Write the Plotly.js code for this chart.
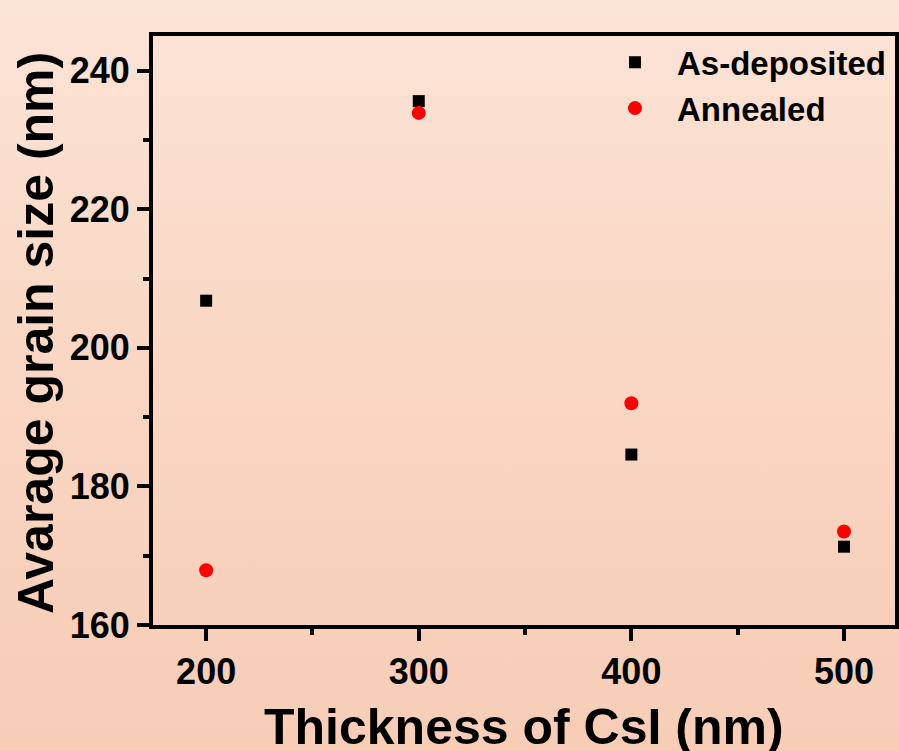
<!DOCTYPE html>
<html>
<head>
<meta charset="utf-8">
<script src="https://cdn.plot.ly/plotly-3.0.1.min.js"></script>
<style>
html,body{margin:0;padding:0;width:899px;height:751px;overflow:hidden;
background:linear-gradient(to bottom,#fce4d7 0%,#f9d6c3 50%,#f7cdb6 100%);}
#chart{width:899px;height:751px;}
</style>
</head>
<body>
<div id="chart"></div>
<script>
const thickness = [200, 300, 400, 500];
const asDeposited = [206.8, 235.6, 184.6, 171.3];
const annealed = [167.9, 233.9, 192.0, 173.5];
const seriesNames = ['As-deposited', 'Annealed'];
const xTitle = 'Thickness of CsI (nm)';
const yTitle = 'Avarage grain size (nm)';

const FONT = 'Liberation Sans, Arial, sans-serif';

const traces = [
  {x: thickness, y: asDeposited, name: seriesNames[0], type: 'scatter', mode: 'markers',
   marker: {symbol: 'square', size: 12, color: '#000000'}},
  {x: thickness, y: annealed, name: seriesNames[1], type: 'scatter', mode: 'markers',
   marker: {symbol: 'circle', size: 14, color: '#ff0000'}}
];

const layout = {
  width: 899, height: 751,
  margin: {l: 153, r: 4, t: 36, b: 126},
  paper_bgcolor: 'rgba(0,0,0,0)',
  plot_bgcolor: 'rgba(0,0,0,0)',
  font: {family: FONT, color: '#000', weight: 'bold'},
  showlegend: true,
  legend: {x: 0.593, y: 1.003, xanchor: 'left', yanchor: 'top',
    bgcolor: 'rgba(0,0,0,0)', font: {size: 33, family: FONT, weight: 'bold'},
    itemwidth: 74, tracegroupgap: 0},
  xaxis: {
    range: [175, 524], tickvals: [200, 300, 400, 500], ticktext: ['200','300','400','500'],
    showgrid: false, zeroline: false,
    showline: true, linecolor: '#000', linewidth: 4, mirror: true,
    ticks: 'outside', ticklen: 12, tickwidth: 4, tickcolor: '#000',
    tickfont: {size: 36, family: FONT, weight: 'bold'},
    minor: {tickvals: [250, 350, 450], ticks: 'outside', ticklen: 6, tickwidth: 4, tickcolor: '#000'}
  },
  yaxis: {
    range: [160, 245], tickvals: [160, 180, 200, 220, 240],
    showgrid: false, zeroline: false,
    showline: true, linecolor: '#000', linewidth: 4, mirror: true,
    ticks: 'outside', ticklen: 12, tickwidth: 4, tickcolor: '#000',
    tickfont: {size: 36, family: FONT, weight: 'bold'},
    minor: {tickvals: [170, 190, 210, 230], ticks: 'outside', ticklen: 6, tickwidth: 4, tickcolor: '#000'}
  },
  annotations: [
    {text: xTitle, xref: 'paper', yref: 'paper', x: 0.5, y: -0.123,
     xanchor: 'center', yanchor: 'top', showarrow: false,
     font: {size: 50, family: FONT, weight: 'bold', color: '#000'}},
    {text: yTitle, xref: 'paper', yref: 'paper', x: -0.1974, y: 0.495,
     xanchor: 'left', yanchor: 'middle', showarrow: false, textangle: -90,
     font: {size: 50, family: FONT, weight: 'bold', color: '#000'}}
  ]
};

Plotly.newPlot('chart', traces, layout, {displayModeBar: false, staticPlot: true});
</script>
</body>
</html>
